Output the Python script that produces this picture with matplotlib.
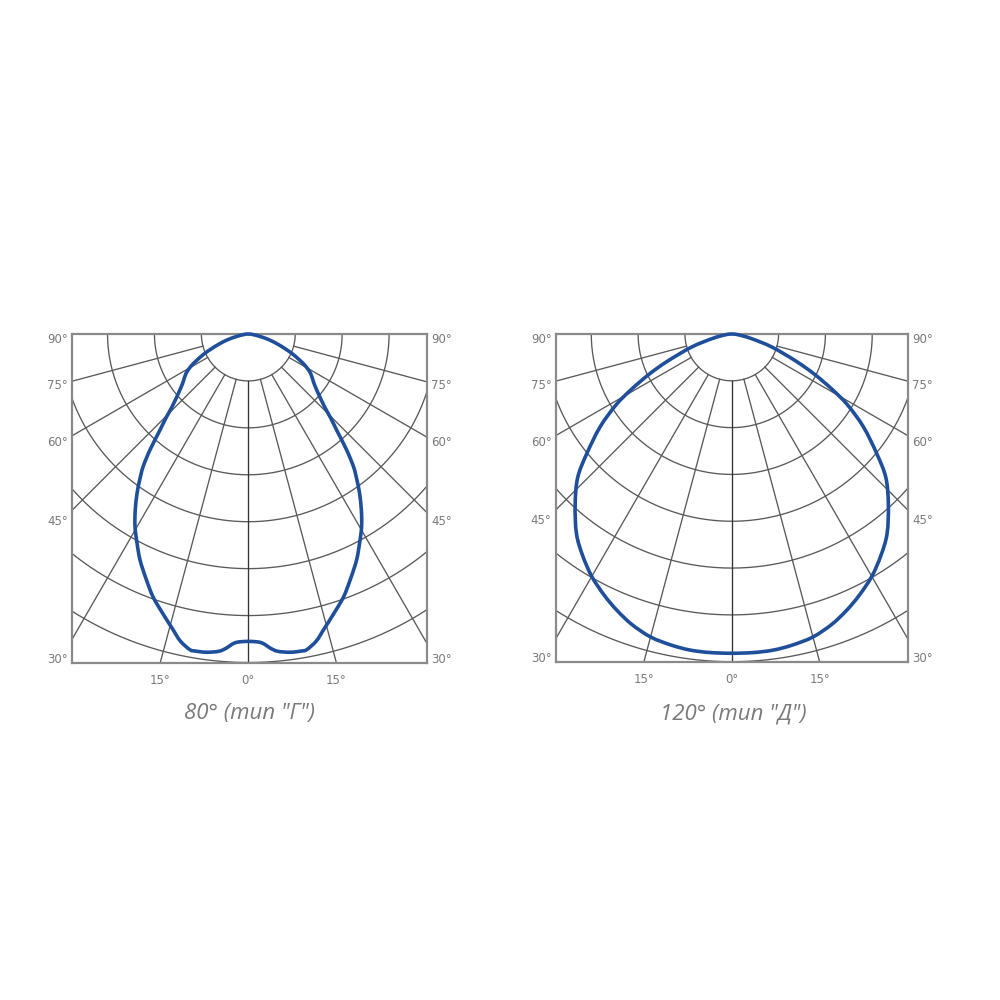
import numpy as np
import matplotlib.pyplot as plt
from matplotlib.path import Path
from matplotlib.patches import PathPatch

# polar grid of the light distribution diagram
ring_radii = [1, 2, 3, 4, 5, 6, 7]
spoke_angles = [-75, -60, -45, -30, -15, 0, 15, 30, 45, 60, 75]

side_labels = ['90°', '75°', '60°', '45°', '30°']
side_label_y = [-0.09, -1.06, -2.28, -3.96, -6.9]
bottom_labels = ['15°', '0°', '15°']
bottom_angles = [-15, 0, 15]

# half curves (symmetric): angle from nadir in degrees, intensity in ring units
g_angle = [0, 2, 3, 4, 5.3, 7.5, 9.5, 10.5, 12.5, 14.3, 17, 19.9, 22.7, 25.6,
           28, 30.4, 32.7, 35, 36.7, 38.4, 40.3, 42.6, 44.5, 46.3, 50.6, 54,
           57.7, 60.7, 63, 65.5, 68, 71, 74.5, 78, 83, 90]
g_r = [6.55, 6.57, 6.62, 6.71, 6.79, 6.84, 6.85, 6.84, 6.70, 6.50, 6.23, 5.96,
       5.65, 5.34, 5.05, 4.77, 4.46, 4.13, 3.87, 3.61, 3.24, 2.78, 2.50, 2.25,
       1.89, 1.71, 1.57, 1.40, 1.23, 1.05, 0.86, 0.66, 0.46, 0.26, 0.10, 0]

d_angle = [0, 4, 7.5, 11, 15, 19, 22.6, 26, 30, 34, 37.9, 42.5, 47, 50.5, 54.8,
           58.5, 61.1, 64, 67, 72, 77, 83, 90]
d_r = [6.82, 6.82, 6.81, 6.77, 6.70, 6.56, 6.39, 6.21, 5.98, 5.70, 5.40, 4.95,
       4.50, 4.01, 3.44, 2.90, 2.45, 1.97, 1.50, 0.90, 0.42, 0.14, 0]

captions = ['80° (тип "Г")', '120° (тип "Д")']

GRID = '#595959'
FRAME = '#8a8a8a'
BLUE = '#1f4f9a'
TEXT = '#7a7a7a'


def full_curve(angle, r):
    a = np.radians(np.concatenate([-np.array(angle)[::-1], np.array(angle)[1:]]))
    rr = np.concatenate([np.array(r)[::-1], np.array(r)[1:]])
    return np.column_stack([rr * np.sin(a), -rr * np.cos(a)])


def smooth_path(pts):
    # closed Catmull-Rom spline through the read points, drawn as cubic Beziers
    n = len(pts) - 1  # last point equals first
    p = pts[:-1]
    verts = [p[0]]
    codes = [Path.MOVETO]
    for i in range(n):
        p0, p1, p2, p3 = p[i - 1], p[i], p[(i + 1) % n], p[(i + 2) % n]
        verts += [p1 + (p2 - p0) / 6, p2 - (p3 - p1) / 6, p2]
        codes += [Path.CURVE4] * 3
    return Path(np.array(verts), codes)


def draw_panel(ax, xlim, angle, r, caption, cap_x):
    t = np.radians(np.linspace(-90, 90, 361))
    for R in ring_radii:
        ax.plot(R * np.sin(t), -R * np.cos(t), color=GRID, lw=0.95, zorder=1)
    for s in spoke_angles:
        a = np.radians(s)
        ax.plot([np.sin(a), 12 * np.sin(a)], [-np.cos(a), -12 * np.cos(a)],
                color='#333333' if s == 0 else GRID, lw=0.95, zorder=1)

    pts = full_curve(angle, r)
    ax.add_patch(PathPatch(smooth_path(pts), facecolor='none', edgecolor=BLUE,
                           lw=2.6, joinstyle='round', zorder=4, clip_on=False))

    ax.set_xlim(*xlim)
    ax.set_ylim(-7, 0)
    for sp in ax.spines.values():
        sp.set_color(FRAME)
        sp.set_linewidth(1.6)

    ax.set_yticks(side_label_y, side_labels)
    ax.tick_params(axis='y', length=0, pad=3, labelsize=8.5, labelcolor=TEXT,
                   labelleft=True, labelright=True)
    ax.set_xticks([7 * np.tan(np.radians(b)) for b in bottom_angles], bottom_labels)
    ax.tick_params(axis='x', length=0, pad=8, labelsize=8.5, labelcolor=TEXT)

    fig.text(cap_x, 0.286, caption, ha='center', va='center', color=TEXT,
             fontsize=16, style='italic', family=['Open Sans', 'DejaVu Sans'])


fig = plt.figure(figsize=(10, 10), dpi=100)
ax1 = fig.add_axes([0.072, 0.3375, 0.355, 0.3285])
ax2 = fig.add_axes([0.5557, 0.3383, 0.3526, 0.3277])

draw_panel(ax1, (-3.757, 3.808), g_angle, g_r, captions[0], 0.25)
draw_panel(ax2, (-3.76, 3.77), d_angle, d_r, captions[1], 0.733)

plt.savefig('out.png')
plt.close('all')
